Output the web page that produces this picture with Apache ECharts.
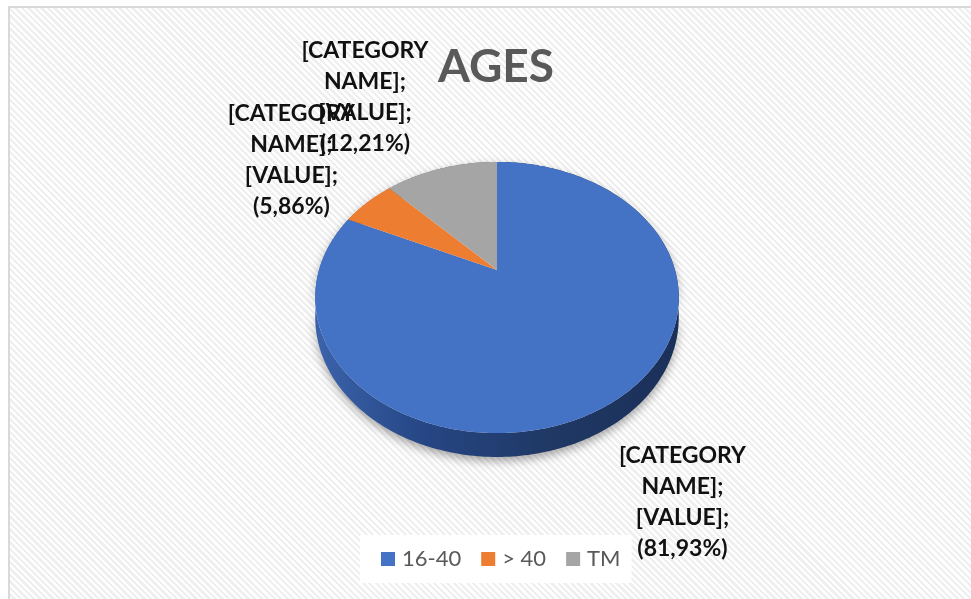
<!DOCTYPE html>
<html>
<head>
<meta charset="utf-8">
<script src="https://cdn.jsdelivr.net/npm/echarts@6/dist/echarts.min.js"></script>
<style>
  html, body { margin: 0; padding: 0; background: #fff; overflow: hidden; }
  .frame {
    position: absolute; left: 8px; top: 6px; width: 1000px; height: 650px;
    border: 2px solid #d9d9d9;
    background: repeating-linear-gradient(45deg, #fff 0, #fff 2.3px, #efefef 2.3px, #efefef 4.6px);
  }
  #chart { position: absolute; left: 0; top: 0; width: 971px; height: 599px; }
</style>
</head>
<body>
<div class="frame"></div>
<div id="chart"></div>
<script>
// data
var categories = ['16-40', '> 40', 'TM'];
var values = [81.93, 5.86, 12.21];

// palette
var colors = ['#4472C4', '#ED7D31', '#A5A5A5'];
var wallColors = [
  { type: 'linear', x: 0, y: 0, x2: 1, y2: 0, colorStops: [
    { offset: 0, color: '#3b63ab' }, { offset: 0.3, color: '#264684' },
    { offset: 0.65, color: '#1f3864' }, { offset: 1, color: '#1b3059' }] },
  '#a9561f', '#6f6f6f'
];

var total = values.reduce(function (s, v) { return s + v; }, 0);
var starts = [];
var acc = 0;
values.forEach(function (v) { starts.push(acc); acc += v; });

// 3d pie geometry (perspective tilted disc)
var pie = { cx: 497, cy: 270, rx: 178, ry: 130, persp: 0.203, depth: 19 };

function angleOf(v) { return v / total * Math.PI * 2; }

function project(phi, r, drop) {
  var u = Math.sin(phi) * r, v = -Math.cos(phi) * r;
  var den = 1 - pie.persp * v;
  return [pie.cx + pie.rx * u / den, pie.cy + pie.ry * v / den + drop / den];
}

function arcPoints(a0, a1, drop) {
  var n = Math.max(2, Math.ceil((a1 - a0) / (Math.PI / 180)));
  var pts = [];
  for (var i = 0; i <= n; i++) {
    pts.push(project(a0 + (a1 - a0) * i / n, 1, drop));
  }
  return pts;
}

function pctText(v) {
  return (v / total * 100).toFixed(2).replace('.', ',') + '%';
}

var chart = echarts.init(document.getElementById('chart'));

var series = [{
  name: 'wall',
  type: 'custom',
  coordinateSystem: 'none',
  z: 1,
  silent: true,
  data: values.map(function (v, i) { return [starts[i], v, i]; }),
  renderItem: function (params, api) {
    var a0 = angleOf(api.value(0)), a1 = angleOf(api.value(0) + api.value(1));
    var top = arcPoints(a0, a1, 0);
    var bottom = arcPoints(a0, a1, pie.depth).reverse();
    return {
      type: 'polygon',
      shape: { points: top.concat(bottom) },
      style: {
        fill: wallColors[api.value(2)],
        shadowColor: 'rgba(0,0,0,0.35)', shadowBlur: 10, shadowOffsetY: 4
      }
    };
  }
}];

categories.forEach(function (name, i) {
  series.push({
    name: name,
    type: 'custom',
    coordinateSystem: 'none',
    z: 5,
    itemStyle: { color: colors[i] },
    data: [[starts[i], values[i]]],
    renderItem: function (params, api) {
      var a0 = angleOf(api.value(0)), a1 = angleOf(api.value(0) + api.value(1));
      var pts = [project(0, 0, 0)].concat(arcPoints(a0, a1, 0));
      var mid = (a0 + a1) / 2;
      var front = Math.cos(mid) < 0;
      var anchor = project(mid, 1, front ? pie.depth : 0);
      // label sits outside the slice, beside its edge point
      var lx = anchor[0] + (Math.sin(mid) >= 0 ? 70 : -76);
      var ly = anchor[1] + 6 - Math.cos(mid) * 84;
      return {
        type: 'group',
        children: [{
          type: 'polygon',
          shape: { points: pts },
          style: { fill: api.visual('color') }
        }, {
          type: 'text',
          x: lx, y: ly,
          style: {
            text: '[CATEGORY\nNAME];\n[VALUE];\n(' + pctText(api.value(1)) + ')',
            fontFamily: 'Lato', fontWeight: 'bold', fontSize: 23, lineHeight: 31,
            align: 'center', verticalAlign: 'middle', fill: '#111'
          }
        }]
      };
    }
  });
});

var option = {
  animation: false,
  title: {
    text: 'AGES',
    left: 433,
    top: 39,
    textStyle: { fontFamily: 'Lato', fontWeight: 'bold', fontSize: 46, color: '#595959' }
  },
  legend: {
    data: categories,
    left: 360,
    top: 535,
    icon: 'rect',
    itemWidth: 14,
    itemHeight: 14,
    itemGap: 20,
    padding: [13, 11, 13, 21],
    backgroundColor: '#fff',
    textStyle: { fontFamily: 'Lato', fontSize: 22, color: '#595959', padding: [0, 0, 0, 2] }
  },
  series: series
};

chart.setOption(option);
</script>
</body>
</html>
